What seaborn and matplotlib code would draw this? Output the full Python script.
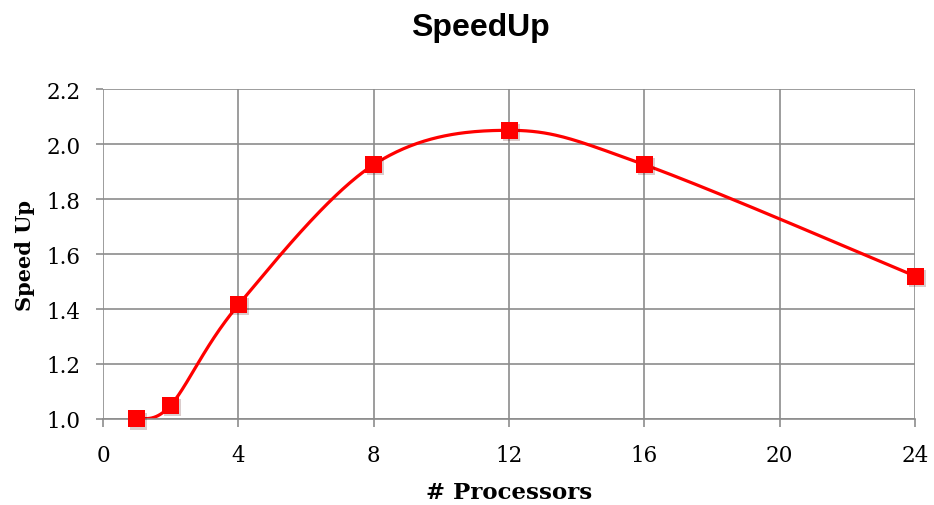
import numpy as np
import pandas as pd
import matplotlib
matplotlib.use("Agg")
import matplotlib.pyplot as plt
import matplotlib.patheffects as pe
import seaborn as sns
from matplotlib.ticker import MultipleLocator

processors = [1, 2, 4, 8, 12, 16, 24]
speedup = [1.0, 1.05, 1.415, 1.925, 2.05, 1.925, 1.52]
x_ticks = [0, 4, 8, 12, 16, 20, 24]
y_ticks = [1.0, 1.2, 1.4, 1.6, 1.8, 2.0, 2.2]


# excel-style smoothed line: cubic bezier through the points
def smooth(xs, ys, n=60):
    p = np.column_stack([xs, ys]).astype(float)
    p = np.vstack([p[0], p, p[-1]])
    out = []
    for i in range(1, len(p) - 2):
        p0, p1 = p[i], p[i + 1]
        c1 = p0 + (p[i + 1] - p[i - 1]) / 6
        c2 = p1 - (p[i + 2] - p[i]) / 6
        t = np.linspace(0, 1, n)[:, None]
        seg = (1 - t) ** 3 * p0 + 3 * (1 - t) ** 2 * t * c1 + 3 * (1 - t) * t ** 2 * c2 + t ** 3 * p1
        out.append(seg if i == 1 else seg[1:])
    out = np.vstack(out)
    return pd.DataFrame({"x": out[:, 0], "y": out[:, 1]})


curve = smooth(processors, speedup)
points = pd.DataFrame({"x": processors, "y": speedup})

sns.set_style("white")
plt.rcParams["text.color"] = "black"
serif = ["DejaVu Serif"]

fig = plt.figure(figsize=(9.34, 5.06), dpi=100)
ax = fig.add_axes([0.1103, 0.170, 0.8694, 0.652])

sns.lineplot(data=curve, x="x", y="y", ax=ax, color="#ff0000", linewidth=2.3,
             sort=False, estimator=None)
sns.scatterplot(data=points, x="x", y="y", ax=ax, marker="s", s=150,
                color="#ff0000", edgecolor="#ff0000", linewidth=0, zorder=5, clip_on=False)
ax.collections[-1].set_path_effects([pe.SimplePatchShadow(offset=(1.5, -1.5), alpha=0.2), pe.Normal()])

ax.set_xlim(0, 24)
ax.set_ylim(1.0, 2.2)
ax.set_xticks(x_ticks)
ax.set_yticks(y_ticks)
ax.set_yticklabels([f"{v:.1f}" for v in y_ticks])
ax.xaxis.set_minor_locator(MultipleLocator(1))

ax.grid(True, which="major", color="#8c8c8c", linewidth=1.2)
ax.set_axisbelow(True)
for s in ax.spines.values():
    s.set_visible(False)
ax.spines["bottom"].set_visible(True)
ax.spines["bottom"].set_color("#8c8c8c")
ax.spines["bottom"].set_linewidth(1.2)

ax.tick_params(axis="x", which="major", length=6, width=1.2, color="#8c8c8c", direction="out", pad=12)
ax.tick_params(axis="x", which="minor", length=4, width=1.2, color="#8c8c8c", direction="out")
ax.tick_params(axis="y", which="major", length=5, width=1.2, color="#8c8c8c", direction="out", pad=11)
ax.tick_params(bottom=True, left=True, labelcolor="black")

for lab in ax.get_xticklabels() + ax.get_yticklabels():
    lab.set_family(serif)
    lab.set_fontsize(15.5)

ax.set_xlabel("# Processors", family=serif, fontsize=16.5, fontweight="bold", labelpad=11, color="black")
ax.set_ylabel("Speed Up", family=serif, fontsize=15, fontweight="bold", labelpad=8, color="black")
fig.text(0.514, 0.945, "SpeedUp", family=["Liberation Sans", "DejaVu Sans"], fontsize=23,
         fontweight="bold", ha="center", va="center", color="black")

fig.savefig("out.png", dpi=100)
